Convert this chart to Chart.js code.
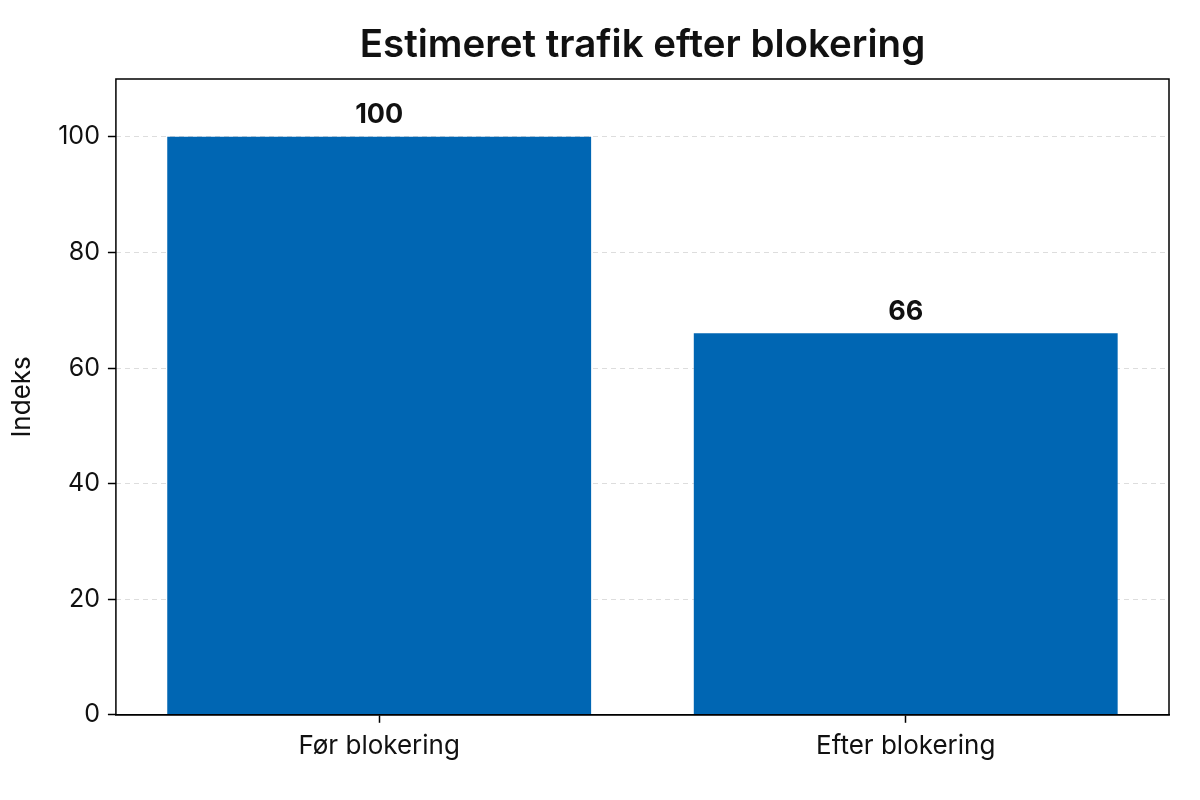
<!DOCTYPE html>
<html>
<head>
<meta charset="utf-8">
<script src="https://cdn.jsdelivr.net/npm/chart.js@4.4.0/dist/chart.umd.min.js"></script>
<style>
html,body{margin:0;padding:0;background:#fff;}
#wrap{width:1200px;height:800px;}
</style>
</head>
<body>
<div id="wrap"><canvas id="c" width="1200" height="800"></canvas></div>
<script>
const categories = ["Før blokering", "Efter blokering"];
const values = [100, 66];
const yTicks = [0, 20, 40, 60, 80, 100];
const titleText = "Estimeret trafik efter blokering";
const yTitle = "Indeks";

const FONT = "Inter, 'Noto Sans', sans-serif";

const framePlugin = {
  id: 'frame',
  afterDraw(chart) {
    const a = chart.chartArea, ctx = chart.ctx;
    ctx.save();
    ctx.strokeStyle = '#000';
    ctx.lineWidth = 1.5;
    ctx.setLineDash([]);
    ctx.strokeRect(a.left, a.top, a.right - a.left, a.bottom - a.top);
    // title centred over the plot area
    ctx.fillStyle = '#111';
    ctx.font = "600 38.5px " + FONT;
    ctx.textAlign = 'center';
    ctx.textBaseline = 'middle';
    ctx.fillText(titleText, (a.left + a.right) / 2, 45);
    ctx.restore();
  }
};

const labelPlugin = {
  id: 'valueLabels',
  afterDatasetsDraw(chart) {
    const ctx = chart.ctx;
    const meta = chart.getDatasetMeta(0);
    ctx.save();
    ctx.fillStyle = '#111';
    ctx.font = "bold 27px " + FONT;
    ctx.textAlign = 'center';
    ctx.textBaseline = 'bottom';
    meta.data.forEach((bar, i) => {
      ctx.fillText(String(values[i]), bar.x, bar.y - 8);
    });
    ctx.restore();
  }
};

new Chart(document.getElementById('c'), {
  type: 'bar',
  data: {
    labels: categories,
    datasets: [{
      data: values,
      backgroundColor: '#0066B3',
      borderWidth: 0,
      categoryPercentage: 0.805,
      barPercentage: 1.0
    }]
  },
  options: {
    responsive: false,
    animation: false,
    devicePixelRatio: 1,
    layout: { padding: { left: 3, right: 31, top: 79, bottom: 30 } },
    plugins: {
      legend: { display: false },
      tooltip: { enabled: false },
      title: { display: false }
    },
    scales: {
      x: {
        grid: { display: true, offset: false, drawOnChartArea: false, drawTicks: true, tickLength: 8, color: '#000', tickColor: '#000', tickWidth: 1.5 },
        border: { display: true, color: '#000', width: 1.5 },
        ticks: { color: '#111', font: { family: FONT, size: 26 }, padding: 8 }
      },
      y: {
        min: 0,
        max: 110,
        afterBuildTicks(axis) { axis.ticks = yTicks.map(v => ({ value: v })); },
        grid: { color: '#dddddd', lineWidth: 1, tickLength: 8, tickColor: '#000', tickWidth: 1.5, tickBorderDash: [] },
        border: { display: false, dash: [5, 4] },
        ticks: { color: '#111', font: { family: FONT, size: 25 }, padding: 8 },
        title: { display: true, text: yTitle, color: '#111', font: { family: FONT, size: 26 }, padding: { bottom: 12 } }
      }
    }
  },
  plugins: [framePlugin, labelPlugin]
});
</script>
</body>
</html>
